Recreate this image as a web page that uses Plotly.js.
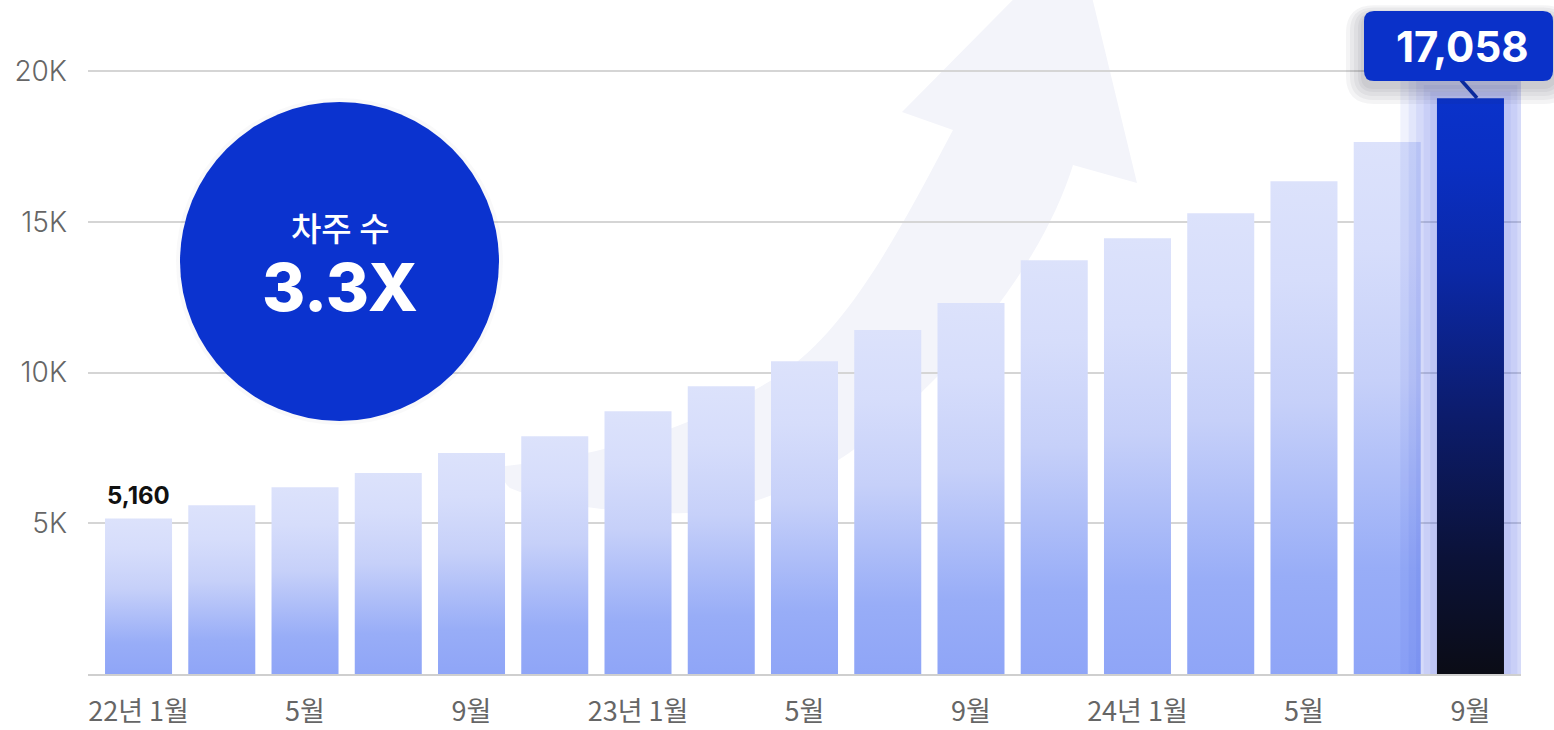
<!DOCTYPE html>
<html>
<head>
<meta charset="utf-8">
<script src="https://cdn.plot.ly/plotly-3.0.1.min.js"></script>
<style>
  html, body { margin: 0; padding: 0; background: #ffffff; }
  #chart { width: 1554px; height: 730px; }
</style>
</head>
<body>
<div id="chart"></div>
<script>
// ---------- data ----------
const categories = ['22년 1월','22년 3월','22년 5월','22년 7월','22년 9월','22년 11월',
                    '23년 1월','23년 3월','23년 5월','23년 7월','23년 9월','23년 11월',
                    '24년 1월','24년 3월','24년 5월','24년 7월','24년 9월'];
const values = [5160, 5600, 6200, 6670, 7330, 7890, 8720, 9550, 10380, 11410,
                12310, 13730, 14460, 15290, 16350, 17650, 19100];
const tickPositions = [0, 2, 4, 6, 8, 10, 12, 14, 16];
const tickLabels = ['22년 1월','5월','9월','23년 1월','5월','9월','24년 1월','5월','9월'];
const yTickValues = [5000, 10000, 15000, 20000];
const yTickLabels = ['5K', '10K', '15K', '20K'];
const firstLabel = '5,160';
const lastLabel = '17,058';
const badgeTitle = '차주 수';
const badgeValue = '3.3X';

// ---------- geometry helpers (pixel -> paper) ----------
const L = 88, R = 1521, T = 26, B = 674;
const fx = x => (x - L) / (R - L);
const fy = y => (B - y) / (B - T);
const P = (x, y) => fx(x).toFixed(5) + ',' + fy(y).toFixed(5);

const FONT = "Inter, 'Noto Sans CJK KR', 'Noto Sans', sans-serif";
const KFONT = "'Noto Sans CJK KR', Inter, sans-serif";
const BAR_W = 0.805;
const n = values.length;
const last = n - 1;

const lightScale = [[0, '#8fa5f7'], [0.2, '#98adf7'], [0.55, '#c6d0f9'], [0.8, '#d6ddfb'], [1, '#dce2fb']];
const darkScale = [[0, '#0b0c16'], [0.2, '#0b1238'], [0.45, '#0c1c6c'], [0.7, '#0b28a6'], [0.88, '#0a2fc2'], [1, '#0a32ca']];

function rectTrace(cx, halfW, y0, y1, extra) {
  return Object.assign({
    type: 'scatter', mode: 'lines',
    x: [cx - halfW, cx - halfW, cx + halfW, cx + halfW, cx - halfW],
    y: [y0, y1, y1, y0, y0],
    fill: 'toself', line: { width: 0 },
    hoverinfo: 'skip', showlegend: false
  }, extra);
}

const traces = [];
values.forEach((v, i) => {
  if (i === last) {
    // soft glow around the highlighted bar
    const spreads = [0.44, 0.34, 0.25, 0.16, 0.08];
    spreads.forEach(s => {
      traces.push(rectTrace(i, BAR_W / 2 + s, -2000, v + s * 83 / 30.14 * 1000,
        { fillcolor: 'rgba(47,85,224,0.075)' }));
    });
    traces.push(rectTrace(i, BAR_W / 2, 0, v, {
      fillgradient: { type: 'vertical', colorscale: darkScale },
      fillcolor: '#0a31c9',
      hoverinfo: 'text', text: categories[i]
    }));
  } else {
    traces.push(rectTrace(i, BAR_W / 2, 0, v, {
      fillgradient: { type: 'vertical', colorscale: lightScale },
      fillcolor: '#c0cbf8',
      hoverinfo: 'text', text: categories[i]
    }));
  }
});

// ---------- decorative shapes ----------
const arrowPath =
  'M' + P(505, 466) +
  ' C' + P(610, 455) + ' ' + P(700, 425) + ' ' + P(780, 375) +
  ' C' + P(845, 330) + ' ' + P(890, 250) + ' ' + P(953, 130) +
  ' L' + P(902, 112) +
  ' L' + P(1077, -65) +
  ' L' + P(1137, 183) +
  ' L' + P(1073, 165) +
  ' C' + P(1050, 240) + ' ' + P(990, 330) + ' ' + P(903, 410) +
  ' C' + P(850, 458) + ' ' + P(770, 512) + ' ' + P(687, 513) +
  ' C' + P(620, 515) + ' ' + P(545, 503) + ' ' + P(510, 488) +
  ' Q' + P(498, 478) + ' ' + P(505, 466) + ' Z';

function roundRect(x0, y0, x1, y1, r) {
  return 'M' + P(x0 + r, y0) + ' L' + P(x1 - r, y0) + ' Q' + P(x1, y0) + ' ' + P(x1, y0 + r) +
    ' L' + P(x1, y1 - r) + ' Q' + P(x1, y1) + ' ' + P(x1 - r, y1) +
    ' L' + P(x0 + r, y1) + ' Q' + P(x0, y1) + ' ' + P(x0, y1 - r) +
    ' L' + P(x0, y0 + r) + ' Q' + P(x0, y0) + ' ' + P(x0 + r, y0) + ' Z';
}

const shapes = [
  { type: 'path', xref: 'paper', yref: 'paper', layer: 'below', path: arrowPath,
    fillcolor: '#f3f4fa', line: { width: 0 } },
  { type: 'circle', xref: 'paper', yref: 'paper', layer: 'above',
    x0: fx(176), x1: fx(503), y0: fy(425), y1: fy(98),
    fillcolor: 'rgba(0,0,40,0.025)', line: { width: 0 } },
  { type: 'circle', xref: 'paper', yref: 'paper', layer: 'above',
    x0: fx(180), x1: fx(499), y0: fy(421), y1: fy(102),
    fillcolor: '#0b33cf', line: { width: 0 } }
];
// callout shadow
[18, 14, 10, 6, 3].forEach(s => {
  shapes.push({ type: 'path', xref: 'paper', yref: 'paper', layer: 'above',
    path: roundRect(1364 - s, 11 - s * 0.6 + 5, 1553 + s, 81 + s + 5, 10 + s),
    fillcolor: 'rgba(30,30,50,0.05)', line: { width: 0 } });
});
shapes.push({ type: 'line', xref: 'paper', yref: 'paper', layer: 'above',
  x0: fx(1461), y0: fy(80), x1: fx(1477), y1: fy(98),
  line: { color: '#0a2a9c', width: 3.5 } });
shapes.push({ type: 'path', xref: 'paper', yref: 'paper', layer: 'above',
  path: roundRect(1364, 11, 1553, 81, 10), fillcolor: '#0a31c9', line: { width: 0 } });

const annotations = [
  { x: 0, y: values[0], xref: 'x', yref: 'y', text: firstLabel, showarrow: false,
    yanchor: 'bottom', yshift: 6,
    font: { family: FONT, size: 24, color: '#111111', weight: 700 } },
  { x: fx(1462), y: fy(46), xref: 'paper', yref: 'paper', text: lastLabel, showarrow: false,
    xanchor: 'center', yanchor: 'middle',
    font: { family: FONT, size: 42, color: '#ffffff', weight: 700 } },
  { x: fx(340), y: fy(227), xref: 'paper', yref: 'paper', text: badgeTitle, showarrow: false,
    xanchor: 'center', yanchor: 'middle',
    font: { family: KFONT, size: 33, color: '#ffffff', weight: 500 } },
  { x: fx(340), y: fy(287), xref: 'paper', yref: 'paper', text: badgeValue, showarrow: false,
    xanchor: 'center', yanchor: 'middle',
    font: { family: FONT, size: 66, color: '#ffffff', weight: 800 } }
];

const layout = {
  width: 1554, height: 730,
  margin: { l: L, r: 1554 - R, t: T, b: 730 - B },
  paper_bgcolor: '#ffffff', plot_bgcolor: 'rgba(0,0,0,0)',
  showlegend: false,
  hovermode: 'closest',
  font: { family: FONT, color: '#666666' },
  xaxis: {
    range: [-0.607, n - 1 + 0.607],
    tickmode: 'array', tickvals: tickPositions, ticktext: tickLabels,
    showgrid: false, zeroline: false,
    showline: true, linecolor: '#cfcfcf', linewidth: 2,
    ticks: '', ticklabelstandoff: 13,
    tickfont: { family: KFONT, size: 27, color: '#666666' },
    fixedrange: true
  },
  yaxis: {
    range: [0, 21500],
    tickmode: 'array', tickvals: yTickValues, ticktext: yTickLabels,
    showgrid: true, gridcolor: '#d5d5d5', gridwidth: 2,
    zeroline: false, showline: false, ticks: '',
    ticklabelstandoff: 20,
    tickfont: { family: FONT, size: 28, color: '#666666', weight: 300 },
    fixedrange: true
  },
  shapes: shapes,
  annotations: annotations
};

Plotly.newPlot('chart', traces, layout, { displayModeBar: false, responsive: false });
</script>
</body>
</html>
